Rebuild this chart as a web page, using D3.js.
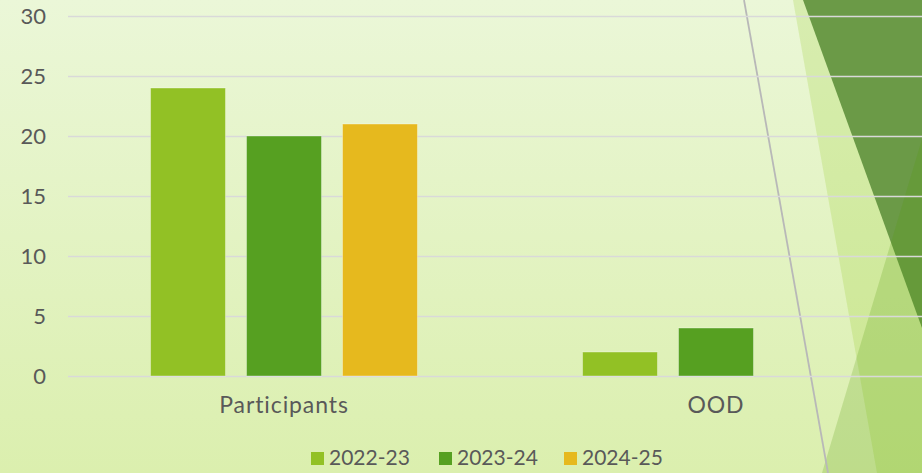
<!DOCTYPE html>
<html>
<head>
<meta charset="utf-8">
<script src="https://cdn.jsdelivr.net/npm/d3@7"></script>
<style>
  html, body { margin: 0; padding: 0; overflow: hidden; }
  text { font-family: Lato, "Open Sans", sans-serif; fill: #595959; }
</style>
</head>
<body>
<div id="container"></div>
<script>
var categories = ["Participants", "OOD"];
var seriesNames = ["2022-23", "2023-24", "2024-25"];
var values2022 = [24, 2];
var values2023 = [20, 4];
var values2024 = [21, null];
var yTicks = [0, 5, 10, 15, 20, 25, 30];
var colors = ["#92c125", "#56a021", "#e6b91e"];

var width = 922,
    height = 473;

var svg = d3.select("#container")
    .append("svg")
    .attr("width", width)
    .attr("height", height);

// background
var defs = svg.append("defs");
var grad = defs.append("linearGradient")
    .attr("id", "bg")
    .attr("x1", 0).attr("y1", 0)
    .attr("x2", 0).attr("y2", 1);
grad.append("stop").attr("offset", "0%").attr("stop-color", "#ebf7d8");
grad.append("stop").attr("offset", "100%").attr("stop-color", "#dbefae");

svg.append("rect")
    .attr("width", width)
    .attr("height", height)
    .attr("fill", "url(#bg)");

// slide decoration on the right
var deco = svg.append("g").attr("class", "deco");
deco.append("polygon")
    .attr("points", "793,0 922,0 922,473 877,473")
    .attr("fill", "rgb(140,200,20)")
    .attr("fill-opacity", 0.2);
deco.append("polygon")
    .attr("points", "803,0 922,0 922,328")
    .attr("fill", "#6b9a47");
deco.append("polygon")
    .attr("points", "822,473 922,139 922,473")
    .attr("fill", "rgb(85,155,15)")
    .attr("fill-opacity", 0.22);
deco.append("line")
    .attr("x1", 744).attr("y1", 0)
    .attr("x2", 828).attr("y2", 473)
    .attr("stroke", "#b8b8b8")
    .attr("stroke-width", 1.8);

// scales
var x = d3.scaleBand()
    .domain(categories)
    .range([68, 932]);

var xInner = d3.scaleBand()
    .domain(seriesNames)
    .range([0, x.bandwidth()])
    .paddingInner(0.219)
    .paddingOuter(0.86);

var y = d3.scaleLinear()
    .domain([0, 30])
    .range([376, 16]);

// gridlines + y labels
var yAxis = svg.append("g")
    .attr("class", "y-axis")
    .call(d3.axisLeft(y).tickValues(yTicks).tickSize(0).tickPadding(0));
yAxis.select(".domain").remove();
yAxis.selectAll(".tick line")
    .attr("x1", 68)
    .attr("x2", width)
    .attr("stroke", "#d9d9d9")
    .attr("stroke-width", 1.5);
yAxis.selectAll(".tick text")
    .attr("x", 46)
    .attr("dy", "0.36em")
    .attr("text-anchor", "end")
    .style("font-size", "22px")
    .style("font-family", "Lato, 'Open Sans', sans-serif")
    .attr("fill", "#595959");

// bars
var series = [values2022, values2023, values2024];
var barData = [];
series.forEach(function (vals, i) {
    vals.forEach(function (v, j) {
        if (v !== null) {
            barData.push({ cat: categories[j], name: seriesNames[i], value: v, color: colors[i] });
        }
    });
});

svg.append("g")
    .selectAll("rect")
    .data(barData)
    .enter()
    .append("rect")
    .attr("x", function (d) { return x(d.cat) + xInner(d.name); })
    .attr("y", function (d) { return y(d.value); })
    .attr("width", xInner.bandwidth())
    .attr("height", function (d) { return y(0) - y(d.value); })
    .attr("fill", function (d) { return d.color; })
    .attr("stroke", "rgba(255,255,255,0.35)")
    .attr("stroke-width", 1);

// category labels
var xAxis = svg.append("g")
    .attr("class", "x-axis")
    .attr("transform", "translate(0,376)")
    .call(d3.axisBottom(x).tickSize(0).tickPadding(0));
xAxis.select(".domain").remove();
xAxis.selectAll(".tick text")
    .attr("y", 37)
    .attr("dy", 0)
    .style("font-size", "23px")
    .style("letter-spacing", "0.9px")
    .style("font-family", "Lato, 'Open Sans', sans-serif")
    .attr("fill", "#595959");

// legend
var legendX = [311, 439, 564];
var legend = svg.append("g").attr("class", "legend")
    .selectAll("g")
    .data(seriesNames)
    .enter()
    .append("g")
    .attr("transform", function (d, i) { return "translate(" + legendX[i] + ",452)"; });
legend.append("rect")
    .attr("width", 13)
    .attr("height", 13)
    .attr("fill", function (d, i) { return colors[i]; });
legend.append("text")
    .attr("x", 18)
    .attr("y", 13)
    .style("font-size", "21px")
    .text(function (d) { return d; });
</script>
</body>
</html>
